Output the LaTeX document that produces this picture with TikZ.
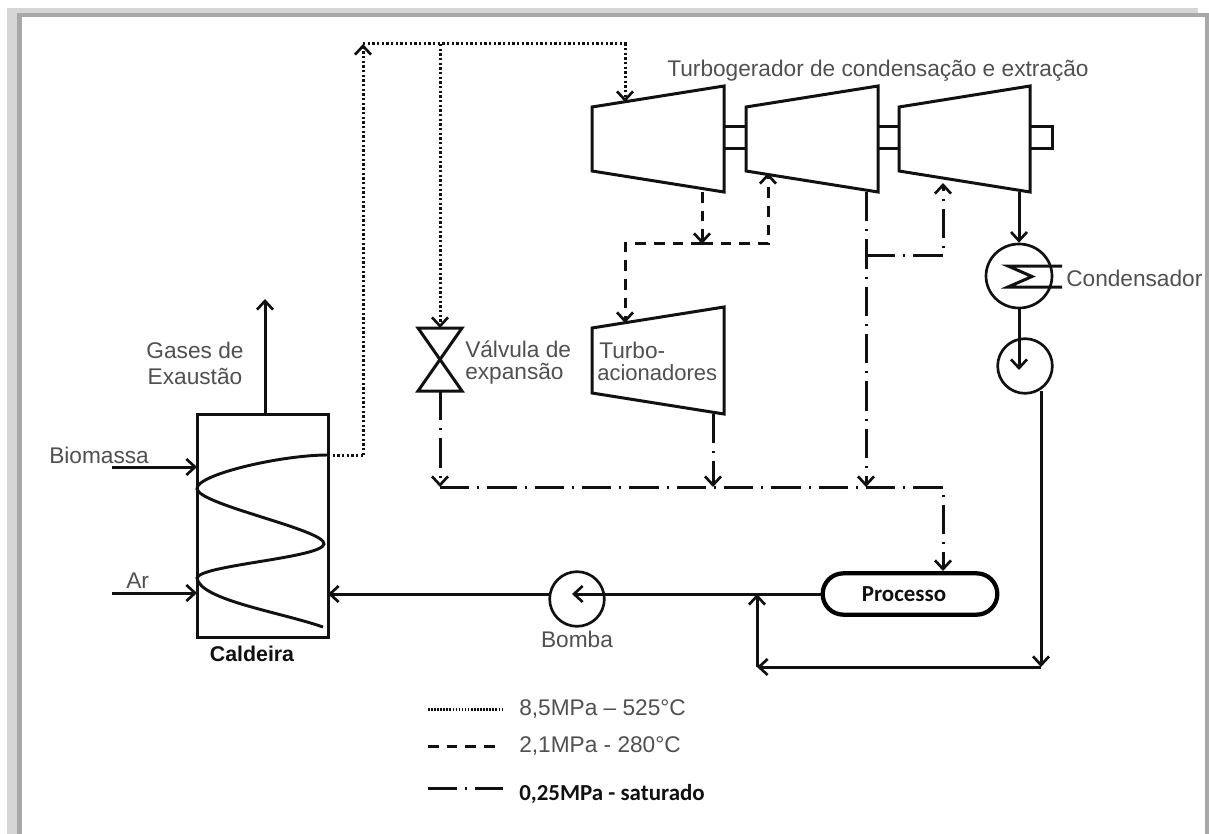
\documentclass[tikz,border=0pt]{standalone}
\usepackage{fontspec}
\setmainfont{Liberation Sans}
\newfontfamily\calib{Carlito}
\usetikzlibrary{arrows.meta,shapes.geometric,shapes.misc}
\definecolor{txt}{HTML}{505050}
\definecolor{frlight}{HTML}{D6D6D6}
\definecolor{frdark}{HTML}{A8A8A8}
\definecolor{ink}{HTML}{111111}
\tikzset{
  x=0.75pt,y=-0.75pt,
  barb/.tip={Straight Barb[length=6.5pt,width=12pt,line width=2pt]},
  plain/.style={line width=2.25pt,draw=ink},
  pipe/.style={plain,-barb},
  outline/.style={line width=2.25pt,draw=ink,line join=miter},
  hp/.style={dash pattern=on 1.8pt off 1.7pt,line width=2.25pt},
  mp/.style={dash pattern=on 8pt off 6pt,line width=2.25pt},
  lp/.style={dash pattern=on 22pt off 6pt on 1.5pt off 6pt,line width=2.25pt},
  lab/.style={text=txt,font=\fontsize{17pt}{20pt}\selectfont,inner sep=0pt,align=center},
  labl/.style={lab,align=left,anchor=west},
  blab/.style={text=ink,inner sep=0pt},
  vessel/.style={draw=ink,line width=2pt,ellipse,inner sep=0pt,fill=none},
}
\begin{document}
\begin{tikzpicture}
\useasboundingbox (0,0) rectangle (1209,834);
\fill[white] (0,0) rectangle (1209,834);
\fill[frlight] (7,8) rectangle (1198,834);
\fill[frdark] (17,13) rectangle (1209,834);
\fill[white] (22,17) rectangle (1205,834);
% turbines
\draw[outline] (592,107) -- (724,86) -- (724,192) -- (592,171) -- cycle;
\draw[outline] (746,107) -- (878,86) -- (878,192) -- (746,171) -- cycle;
\draw[outline] (899,107) -- (1030,86) -- (1030,192) -- (899,171) -- cycle;
\draw[outline] (724,127) -- (746,127) (724,149) -- (746,149);
\draw[outline] (878,127) -- (899,127) (878,149) -- (899,149);
\draw[outline] (1030,127) -- (1052,127) -- (1052,149) -- (1030,149);
\draw[outline] (592,328) -- (724,307) -- (724,414) -- (592,393) -- cycle;
\node[lab] (title) at (878,71) {Turbogerador de condensação e extração};
\node[labl] (tba) at (599,350) {Turbo-};
\node[labl,font=\fontsize{16.5pt}{20pt}\selectfont] (tbb) at (597,373) {acionadores};
% condenser and pumps
\node[vessel,minimum width=49.5pt,minimum height=48pt] (cond) at (1019,276) {};
\node[vessel,minimum width=41pt,minimum height=41pt] (pump) at (1025,366) {};
\node[vessel,minimum width=41pt,minimum height=41pt] (bomba) at (577,599) {};
\draw[plain] (1062,266) -- (1008,266) -- (1032,276.5) -- (1008,287) -- (1062,287);
\node[labl] (clab) at (1066,278) {Condensador};
\node[lab] (blab) at (577,639) {Bomba};
% valve
\draw[outline] (418,328) -- (462,328) -- (418,391) -- (462,391) -- cycle;
\node[labl] (v1) at (465,349) {Válvula de};
\node[labl] (v2) at (465,374) {expansão};
% boiler
\node[draw=ink,line width=2.25pt,minimum width=98.25pt,minimum height=167.25pt,inner sep=0pt] (boiler) at (262.5,525.5) {};
\draw[line width=2.2pt,draw=ink] (328,455) .. controls (280,455) and (195,475) .. (197,489)
  .. controls (200,505) and (326,530) .. (324,544)
  .. controls (322,558) and (200,565) .. (197,578)
  .. controls (200,600) and (280,612) .. (323,627);
\node[lab] (gas) at (195,363) {Gases de\\[-0.5pt]Exaustão};
\node[labl] (bio) at (49,455) {Biomassa};
\node[labl] (ar) at (126,581) {Ar};
\node[blab,font=\bfseries\fontsize{16pt}{19pt}\selectfont] (cald) at (252,654) {Caldeira};
% process
\node[draw=black,line width=3.2pt,rounded rectangle,minimum width=131pt,minimum height=31pt,inner sep=0pt,font=\calib\bfseries\fontsize{17.2pt}{20pt}\selectfont,text=ink] (proc) at (910,594) {\hspace*{-9pt}Processo};
% free ends and junctions
\coordinate (exh) at (265,299);
\coordinate (bioS) at (112,467);
\coordinate (bioE) at (197,467);
\coordinate (arS) at (112,593);
\coordinate (arE) at (197,593);
\coordinate (boilOut) at (328,455);
\coordinate (c1) at (363,455);
\coordinate (c2) at (363,44);
\coordinate (c3) at (440,44);
\coordinate (c4) at (625,44);
\coordinate (t1in) at (625,102);
\coordinate (valT) at (440,328);
\coordinate (valB) at (440,391);
\coordinate (lpL) at (440,487);
\coordinate (lpA) at (713,487);
\coordinate (lpB) at (866,487);
\coordinate (lpR) at (943,487);
\coordinate (procT) at (943,571);
\coordinate (tbOut) at (713,414);
\coordinate (t1out) at (702,192);
\coordinate (mA) at (702,244);
\coordinate (mL) at (625,244);
\coordinate (mR) at (768,244);
\coordinate (t2in) at (768,173);
\coordinate (tbIn) at (625,323);
\coordinate (t2out) at (866,192);
\coordinate (bA) at (866,256);
\coordinate (bB) at (943,256);
\coordinate (t3in) at (943,183);
\coordinate (t3out) at (1019,192);
\coordinate (pumpIn) at (1019,370);
\coordinate (pS) at (1041,391);
\coordinate (pE) at (1041,667);
\coordinate (ret) at (757,667);
\coordinate (retT) at (757,594);
\coordinate (bombaTip) at (572,594);
\coordinate (procW) at (822,594);
\coordinate (bombaW) at (551,594);
\coordinate (boilE) at (328,594);
% solid
\draw[pipe] (boiler.north -| exh) -- (exh);
\draw[pipe] (bioS) -- (bioE);
\draw[pipe] (arS) -- (arE);
\draw[pipe] (t3out) -- (cond.north -| t3out);
\draw[pipe] (cond.south -| t3out) -- (pumpIn);
\draw[pipe] (pS) -- (pE);
\draw[pipe] (pE) -- (ret);
\draw[pipe] (ret) -- (retT);
\draw[pipe] (procW) -- (bombaTip);
\draw[pipe] (bombaW) -- (boilE);
% high pressure
\draw[plain,hp] (boilOut) -- (c1);
\draw[pipe,hp] (c1) -- (c2);
\draw[pipe,hp] (c2) -- (c4) -- (t1in);
\draw[pipe,hp] (c3) -- (valT);
% medium pressure
\draw[pipe,mp] (t1out) -- (mA);
\draw[pipe,mp] (mA) -- (mR) -- (t2in);
\draw[pipe,mp] (mA) -- (mL) -- (tbIn);
% low pressure
\draw[pipe,lp] (valB) -- (lpL);
\draw[pipe,lp] (tbOut) -- (lpA);
\draw[pipe,lp] (t2out) -- (lpB);
\draw[pipe,lp] (bA) -- (bB) -- (t3in);
\draw[pipe,lp] (lpL) -- (lpR) -- (procT);
% legend
\coordinate (l1a) at (428,709); \coordinate (l1b) at (503,709);
\coordinate (l2a) at (428,746); \coordinate (l2b) at (499,746);
\coordinate (l3a) at (428,788); \coordinate (l3b) at (503,788);
\draw[plain,dash pattern=on 1.2pt off 1.1pt,line width=2.25pt] (l1a) -- (l1b);
\draw[plain,mp] (l2a) -- (l2b);
\draw[plain,lp] (l3a) -- (l3b);
\node[labl] (t1) at (519,709) {8,5MPa – 525°C};
\node[labl] (t2) at (519,746) {2,1MPa - 280°C};
\node[blab,anchor=west,font=\calib\bfseries\fontsize{17.2pt}{20pt}\selectfont] (t3) at (519,794) {0,25MPa - saturado};
\end{tikzpicture}
\end{document}
